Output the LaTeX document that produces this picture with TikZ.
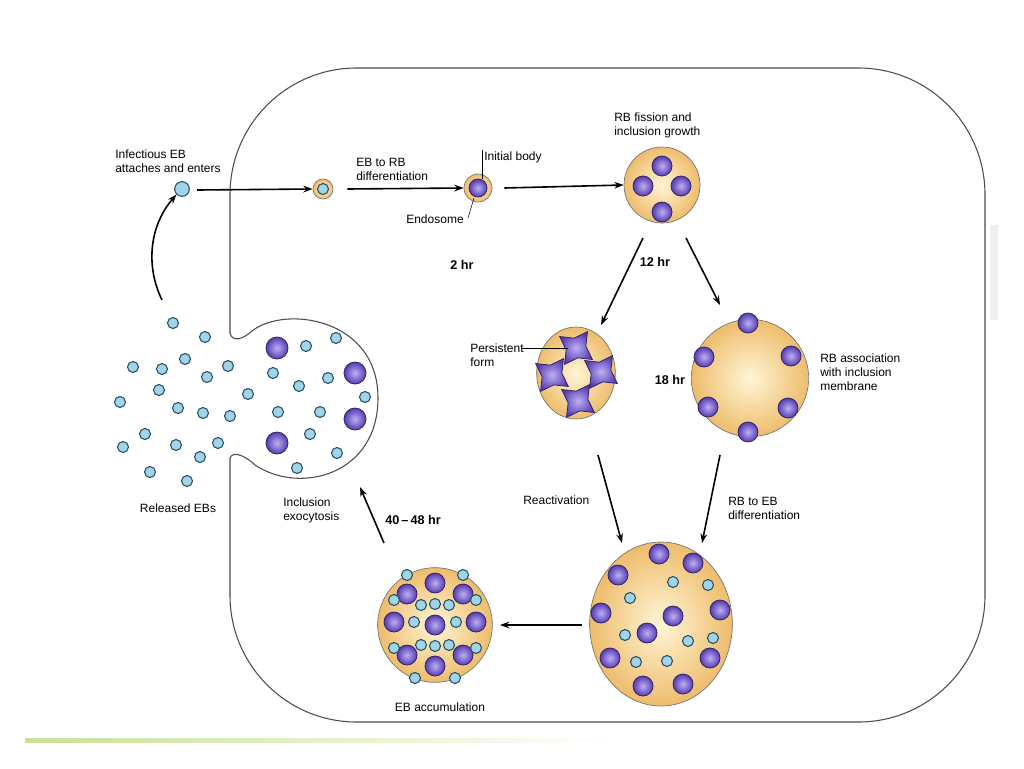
\documentclass[tikz,border=0pt]{standalone}
\usepackage{fontspec}
\setmainfont{Liberation Sans}
\usetikzlibrary{shapes.geometric,arrows.meta}
\definecolor{ebfill}{RGB}{160,212,232}
\definecolor{ebdraw}{RGB}{40,80,100}
\definecolor{incout}{RGB}{238,188,108}
\definecolor{incin}{RGB}{255,246,214}
\definecolor{pin}{RGB}{190,175,245}
\definecolor{pout}{RGB}{85,60,175}
\begin{document}
\begin{tikzpicture}[x=0.75pt,y=-0.75pt,
  inc/.style={circle,draw=black!55,line width=0.5pt,inner color=incin,outer color=incout,inner sep=0pt},
  arr/.style={-{Stealth[length=7pt,width=5pt]},line width=1.2pt},
  lab/.style={font=\fontsize{9}{10.5}\selectfont,align=left,inner sep=0pt},
  hr/.style={font=\fontsize{9.5}{11}\selectfont\bfseries,inner sep=0pt}]
\useasboundingbox (0,0) rectangle (1024,768);
\newcommand\eb[2]{\fill[ebfill,draw=ebdraw,line width=0.8pt] (#1,#2) circle (5.5);}
\newcommand\rb[3]{\shade[inner color=pin,outer color=pout,draw=pout!60!black,line width=0.6pt] (#1,#2) circle (#3);}
% bottom green line
\shade[left color={rgb,255:red,200;green,225;blue,150},right color=white] (25,738) rectangle (620,742);
\fill[black!6] (990,225) rectangle (998,320);
% cell outline
\draw[black!70,line width=0.8pt,rounded corners=95] (230,333) -- (230,68) -- (985,68) -- (985,722) -- (230,722) -- (230,458);
\draw[black!70,line width=0.8pt] (230,333) .. controls (232,342) and (242,340) .. (252,331)
  .. controls (285,305) and (378,318) .. (378,398)
  .. controls (378,475) and (300,495) .. (255,465)
  .. controls (242,453) and (232,452) .. (230,458);
% stage 1
\node[circle,fill=ebfill,draw=ebdraw,line width=0.8pt,minimum size=11pt,inner sep=0pt] (eb0) at (182,189) {};
\node[lab,anchor=south west] (t0) at (115,173) {Infectious EB\\attaches and enters};
\node[inc,minimum size=15pt] (endo) at (323,189) {};
\eb{323}{189}
\draw[arr] (197,190) -- (endo.west);
\node[lab,anchor=south west] (t1) at (356,181) {EB to RB\\differentiation};
\node[inc,minimum size=21pt] (ib) at (478,188) {};
\rb{478}{188}{9}
\draw[arr] (endo.east) ++(14,0) -- (ib.west);
\node[lab,anchor=south west] (t2) at (484,163) {Initial body};
\draw (482,150) -- (482,179);
\node[lab,anchor=north] (t3) at (435,215) {Endosome};
\draw (474,198) -- (468,218);
\node[hr] (h2) at (462,265) {2 hr};
\node[inc,minimum size=57pt] (fis) at (662,185) {};
\rb{643}{186}{10}\rb{681}{186}{10}\rb{662}{166}{10}\rb{662}{212}{10}
\draw[arr] (ib.east) ++(12,0) -- (fis.west);
\node[lab,anchor=south west] (t4) at (614,138) {RB fission and\\inclusion growth};
\node[hr] (h12) at (655,262) {12 hr};
% persistent
\node[ellipse,draw=black!55,line width=0.5pt,inner color=incin,outer color=incout,inner sep=0pt,minimum width=59pt,minimum height=69pt] (per) at (576,373) {};
\foreach \p in {(576,348),(552,375),(601,372),(578,401)}
  \node[star,star points=4,star point ratio=0.5,minimum size=15pt,inner sep=0pt,draw=pout!60!black,line width=0.6pt,inner color=pin,outer color=pout,rotate=10] at \p {};
\node[lab,anchor=west] (t5) at (470,355) {Persistent\\form};
\draw (522,348) -- (568,348);
% 18 hr
\node[inc,minimum size=88pt] (big) at (750,378) {};
\rb{748}{323}{10}\rb{791}{356}{10}\rb{788}{408}{10}\rb{748}{432}{10}\rb{708}{407}{10}\rb{704}{357}{10}
\node[hr] (h18) at (670,380) {18 hr};
\node[lab,anchor=west] (t6) at (820,372) {RB association\\with inclusion\\membrane};
\draw[arr] (643,238) -- (601,325);
\draw[arr] (686,238) -- (720,305);
% mature
\node[ellipse,draw=black!55,line width=0.5pt,inner color=incin,outer color=incout,minimum width=107pt,minimum height=123pt,inner sep=0pt] (mat) at (661,624) {};
\foreach \x/\y in {659/554,693/563,618/575,720/610,601/613,673/616,647/633,610/658,710/658,643/686,683/684} {\rb{\x}{\y}{10}}
\foreach \x/\y in {673/582,708/585,630/598,625/635,688/641,713/638,636/662,667/661} {\eb{\x}{\y}}
\draw[arr] (598,455) -- (622,543);
\draw[arr] (720,455) -- (702,543);
\node[lab,anchor=west] (t7) at (523,500) {Reactivation};
\node[lab,anchor=west] (t8) at (728,508) {RB to EB\\differentiation};
% EB accumulation
\node[inc,minimum size=86pt] (acc) at (435,625) {};
\foreach \x/\y in {435/583,407/594,463/594,394/622,435/625,476/622,407/655,463/655,435/666} {\rb{\x}{\y}{10}}
\foreach \x/\y in {421/605,449/605,414/622,456/622,421/645,449/645,394/600,476/600,394/648,476/648,435/604,435/646,415/678,455/678,407/575,463/575} {\eb{\x}{\y}}
\draw[arr] (582,625) -- (500,625);
\node[lab] (t9) at (440,707) {EB accumulation};
\draw[arr] (384,543) -- (360,487);
\node[hr,anchor=west] (h40) at (385,520) {40\,--\,48 hr};
\node[lab,anchor=west] (t10) at (283,510) {Inclusion\\exocytosis};
\node[lab] (t11) at (178,508) {Released EBs};
% inclusion content
\foreach \x/\y in {277/348,355/373,355/419,277/443} {\rb{\x}{\y}{11}}
\foreach \x/\y in {306/346,336/338,273/373,299/386,328/378,365/397,278/412,320/412,310/434,337/453,297/468} {\eb{\x}{\y}}
% released
\foreach \x/\y in {173/323,205/337,133/367,162/369,185/359,207/377,228/366,159/390,120/402,178/408,203/413,230/416,248/394,145/434,123/447,176/445,200/457,218/443,150/472,187/481} {\eb{\x}{\y}}
\draw[arr] (162,300) .. controls (145,265) and (150,225) .. (eb0.south west);
\end{tikzpicture}
\end{document}
